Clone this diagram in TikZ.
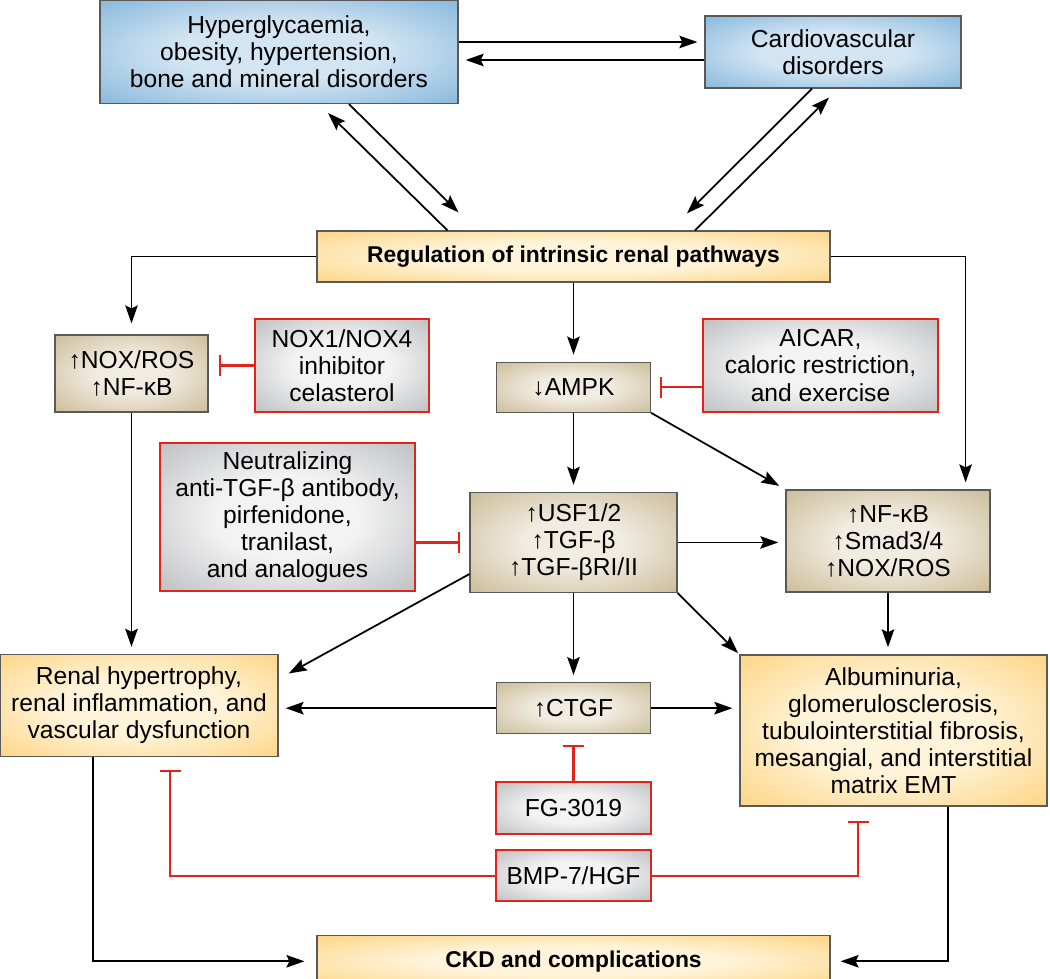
\documentclass[tikz,border=0pt]{standalone}
\usepackage{fontspec}
\setmainfont{Liberation Sans}
\usetikzlibrary{positioning,calc,arrows.meta}
\definecolor{blueOut}{HTML}{80B3D9}
\definecolor{blueIn}{HTML}{D3E5F3}
\definecolor{goldOut}{HTML}{FDD27C}
\definecolor{goldIn}{HTML}{FFF4DA}
\definecolor{tanOut}{HTML}{C8B892}
\definecolor{tanIn}{HTML}{F1ECE1}
\definecolor{grayOut}{HTML}{B9BABD}
\definecolor{grayIn}{HTML}{F3F3F3}
\definecolor{inhred}{HTML}{E2231A}
\pgfdeclareradialshading{blueglow}{\pgfpoint{0bp}{0bp}}{color(0bp)=(blueIn); color(14bp)=(blueIn); color(38bp)=(blueOut); color(60bp)=(blueOut)}
\pgfdeclareradialshading{goldglow}{\pgfpoint{0bp}{0bp}}{color(0bp)=(goldIn); color(14bp)=(goldIn); color(38bp)=(goldOut); color(60bp)=(goldOut)}
\pgfdeclareradialshading{tanglow}{\pgfpoint{0bp}{0bp}}{color(0bp)=(tanIn); color(12bp)=(tanIn); color(38bp)=(tanOut); color(60bp)=(tanOut)}
\pgfdeclareradialshading{grayglow}{\pgfpoint{0bp}{0bp}}{color(0bp)=(grayIn); color(14bp)=(grayIn); color(38bp)=(grayOut); color(60bp)=(grayOut)}
\tikzset{box/.style={draw=black!65, line width=0.7pt, inner sep=2pt, align=center}}
\tikzset{bluebox/.style={box, shading=blueglow}}
\tikzset{goldbox/.style={box, shading=goldglow}}
\tikzset{tanbox/.style={box, shading=tanglow}}
\tikzset{drugbox/.style={box, draw=inhred, line width=1.1pt, shading=grayglow}}
\tikzset{boldtext/.style={font=\fontsize{13}{15.4}\selectfont\bfseries}}
\tikzset{arr/.style={draw, line width=1pt, -{Stealth[length=3.6mm,width=2.5mm,inset=0.6mm]}, shorten >=4pt}}
\tikzset{inh/.style={draw=inhred, line width=1.2pt, -{Bar[width=4.2mm,line width=1.2pt]}}}
\begin{document}
\begin{tikzpicture}[font=\fontsize{14}{15.4}\selectfont]
\useasboundingbox (0,0) rectangle (21,-19.58);
% top row
\node[bluebox, minimum width=7.16cm, minimum height=2.06cm] (hyper) at (5.58,-1.04)
  {Hyperglycaemia,\\obesity, hypertension,\\bone and mineral disorders};
\node[bluebox, minimum width=5.12cm, minimum height=1.44cm] (cardio) at (16.66,-1.04)
  {Cardiovascular\\disorders};
\node[goldbox, boldtext, minimum width=10.26cm, minimum height=1.02cm] (reg) at (11.47,-5.13)
  {Regulation of intrinsic renal pathways};
% middle column
\node[tanbox, minimum width=3.08cm, minimum height=1cm, below=1.58 of reg] (ampk) {↓AMPK};
\node[tanbox, minimum width=4.14cm, minimum height=2cm, below=1.58 of ampk] (tgf)
  {↑USF1/2\\↑TGF-β\\↑TGF-βRI/II};
\node[tanbox, minimum width=3.08cm, minimum height=1.02cm, below=1.78 of tgf] (ctgf) {↑CTGF};
\node[drugbox, minimum width=3.1cm, minimum height=1.04cm, below=0.94 of ctgf] (fg) {FG-3019};
\node[drugbox, minimum width=3.1cm, minimum height=1.02cm, below=0.28 of fg] (bmp) {BMP-7/HGF};
\node[goldbox, boldtext, minimum width=10.26cm, minimum height=1.02cm, below=0.66 of bmp] (ckd)
  {CKD and complications};
% sides
\node[tanbox, minimum width=3.06cm, minimum height=1.54cm] (nox) at (2.63,-7.47) {↑NOX/ROS\\↑NF-κB};
\node[drugbox, minimum width=3.48cm, minimum height=1.86cm] (noxinh) at (6.84,-7.31)
  {NOX1/NOX4\\inhibitor\\celasterol};
\node[drugbox, minimum width=4.7cm, minimum height=1.86cm] (aicar) at (16.41,-7.31)
  {AICAR,\\caloric restriction,\\and exercise};
\node[drugbox, minimum width=5.1cm, minimum height=2.96cm] (neut) at (5.75,-10.34)
  {Neutralizing\\anti-TGF-β antibody,\\pirfenidone,\\tranilast,\\and analogues};
\node[tanbox, minimum width=4.08cm, minimum height=2.04cm] (nfkb) at (17.76,-10.82)
  {↑NF-κB\\↑Smad3/4\\↑NOX/ROS};
\node[goldbox, minimum width=5.56cm, minimum height=2.04cm] (renal) at (2.78,-14.11)
  {Renal hypertrophy,\\renal inflammation, and\\vascular dysfunction};
\node[goldbox, minimum width=6.14cm, minimum height=3.02cm] (alb) at (17.87,-14.61)
  {Albuminuria,\\glomerulosclerosis,\\tubulointerstitial fibrosis,\\mesangial, and interstitial\\matrix EMT};
%
\draw[arr] ($(hyper.east)+(0,0.2)$) -- ($(cardio.west)+(0,0.2)$);
\draw[arr] ($(cardio.west)+(0,-0.16)$) -- ($(hyper.east)+(0,-0.16)$);
\draw[arr] ($(hyper.south)+(1.4,0)$) -- ($(reg.north)+(-2.2,0.26)$);
\draw[arr] ($(reg.north)+(-2.52,0)$) -- ($(hyper.south)+(0.88,-0.08)$);
\draw[arr] ($(cardio.south)+(-0.42,0)$) -- ($(reg.north)+(2.17,0.24)$);
\draw[arr] ($(reg.north)+(2.43,0)$) -- ($(cardio.south)+(0.02,-0.08)$);
%
\draw[arr, shorten >=0.22cm] (reg.west) -| (nox.north);
\draw[arr] (reg.east) -| ($(nfkb.north east)+(-0.5,0)$);
\draw[arr] (reg.south) -- (ampk.north);
\draw[arr] (ampk.south) -- (tgf.north);
\draw[arr] (ampk.south east) -- (nfkb.north west);
\draw[arr] (tgf.east) -- (tgf.east -| nfkb.west);
\draw[arr] (tgf.south) -- (ctgf.north);
\draw[arr] ($(tgf.south west)+(0,0.38)$) -- ($(renal.north east)+(0.08,-0.46)$);
\draw[arr, shorten >=1pt] (tgf.south east) -- (alb.north west);
\draw[arr] (nox.south) -- (nox.south |- renal.north);
\draw[arr] (nfkb.south) -- (nfkb.south |- alb.north);
\draw[arr] (ctgf.west) -- (ctgf.west -| renal.east);
\draw[arr] (ctgf.east) -- (ctgf.east -| alb.west);
\draw[arr, shorten >=0.24cm] ($(renal.south)+(-0.92,0)$) |- (ckd.west);
\draw[arr, shorten >=0.2cm] ($(alb.south)+(1.09,0)$) |- (ckd.east);
%
\draw[inh, shorten >=0.2cm] (noxinh.west) -- (noxinh.west -| nox.east);
\draw[inh, shorten >=0.18cm] (aicar.west |- ampk.east) -- (ampk.east);
\draw[inh, shorten >=0.18cm] (neut.east |- tgf.west) -- (tgf.west);
\draw[inh, shorten >=0.22cm] (fg.north) -- (ctgf.south);
\draw[inh, shorten >=0.26cm] (bmp.west) -| ($(renal.south)+(0.62,0)$);
\draw[inh, shorten >=0.28cm] (bmp.east) -| ($(alb.south)+(-0.71,0)$);
\end{tikzpicture}
\end{document}
